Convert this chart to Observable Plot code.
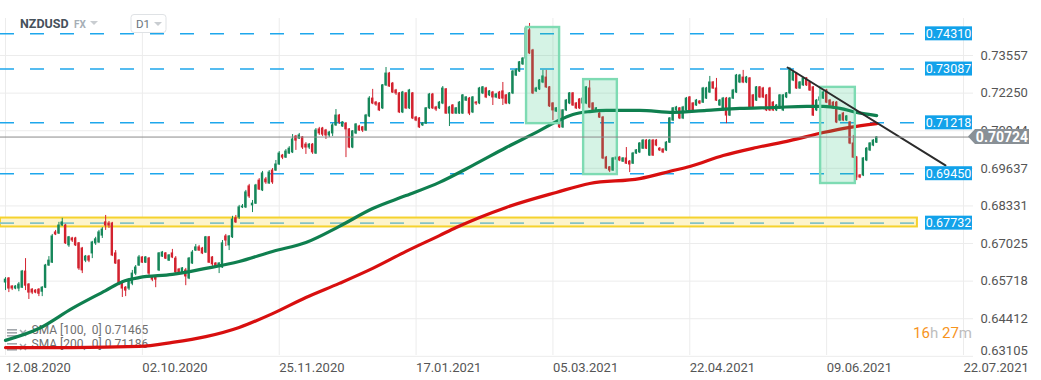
<!DOCTYPE html>
<html><head><meta charset="utf-8">
<script src="https://cdn.jsdelivr.net/npm/d3@7"></script>
<script src="https://cdn.jsdelivr.net/npm/@observablehq/plot@0.6"></script>
<style>
body{margin:0;background:#fff;font-family:Roboto,sans-serif}
#chart{width:1041px;height:380px}
</style></head><body><div id="chart"></div>
<script>
// ---- data (daily candles, NZDUSD, index = bar number) ----
const opens=[
.6567,.6581,.6553,.6546,.6546,.6549,.6605,.6560,.6542,.6539,
.6542,.6535,.6549,.6626,.6636,.6741,.6737,.6765,.6765,.6696,
.6720,.6720,.6703,.6685,.6643,.6657,.6668,.6703,.6706,.6730,
.6776,.6772,.6772,.6668,.6643,.6567,.6549,.6546,.6563,.6598,
.6626,.6654,.6636,.6650,.6584,.6584,.6609,.6657,.6668,.6643,
.6668,.6650,.6612,.6602,.6609,.6581,.6633,.6678,.6689,.6685,
.6671,.6724,.6654,.6633,.6623,.6619,.6727,.6696,.6724,.6790,
.6793,.6828,.6828,.6901,.6835,.6841,.6921,.6887,.6925,.6911,
.6956,.6956,.6977,.7008,.7001,.7015,.7019,.7074,.7067,.7071,
.7046,.7036,.7046,.7015,.7099,.7102,.7095,.7078,.7085,.7113,
.7147,.7109,.7119,.7099,.7036,.7085,.7109,.7106,.7095,.7144,
.7206,.7192,.7189,.7172,.7252,.7293,.7258,.7234,.7224,.7158,
.7224,.7172,.7224,.7140,.7137,.7113,.7119,.7172,.7220,.7175,
.7172,.7189,.7238,.7154,.7182,.7154,.7154,.7154,.7199,.7206,
.7158,.7192,.7189,.7224,.7241,.7217,.7227,.7210,.7227,.7231,
.7217,.7189,.7224,.7286,.7300,.7325,.7345,.7443,.7373,.7231,
.7238,.7262,.7279,.7245,.7189,.7161,.7165,.7106,.7165,.7189,
.7224,.7189,.7203,.7189,.7189,.7241,.7189,.7165,.7154,.7140,
.7001,.6967,.6956,.6994,.7001,.6987,.6998,.6987,.6980,.7015,
.7019,.7032,.7060,.7008,.7060,.7060,.7032,.7029,.7026,.7053,
.7130,.7165,.7172,.7137,.7165,.7210,.7189,.7182,.7196,.7192,
.7206,.7227,.7262,.7241,.7182,.7165,.7206,.7147,.7206,.7227,
.7262,.7279,.7262,.7276,.7217,.7199,.7245,.7241,.7217,.7241,
.7192,.7165,.7172,.7165,.7210,.7224,.7269,.7293,.7241,.7252,
.7276,.7262,.7245,.7165,.7199,.7206,.7234,.7199,.7192,.7192,
.7130,.7154,.7130,.7123,.7050,.7001,.6939,.6939,.6991,.7026,
.7043,.7053];
const closes=[
.6577,.6546,.6546,.6553,.6560,.6605,.6556,.6532,.6532,.6532,
.6528,.6549,.6626,.6643,.6727,.6734,.6765,.6776,.6703,.6724,
.6713,.6696,.6616,.6609,.6657,.6643,.6706,.6717,.6741,.6751,
.6765,.6765,.6661,.6633,.6563,.6546,.6539,.6574,.6598,.6619,
.6654,.6636,.6654,.6598,.6577,.6577,.6668,.6671,.6650,.6661,
.6654,.6602,.6602,.6616,.6588,.6650,.6671,.6689,.6678,.6668,
.6724,.6636,.6630,.6619,.6633,.6703,.6713,.6727,.6786,.6776,
.6828,.6831,.6880,.6866,.6841,.6904,.6890,.6946,.6915,.6949,
.6915,.6977,.7015,.7001,.7022,.7032,.7064,.7060,.7078,.7036,
.7036,.7046,.7019,.7095,.7085,.7081,.7078,.7088,.7113,.7147,
.7123,.7123,.7099,.7036,.7092,.7116,.7095,.7095,.7147,.7206,
.7189,.7185,.7165,.7252,.7293,.7248,.7227,.7224,.7158,.7227,
.7172,.7234,.7137,.7130,.7106,.7119,.7172,.7220,.7172,.7168,
.7192,.7241,.7154,.7175,.7154,.7172,.7192,.7217,.7210,.7154,
.7210,.7189,.7241,.7245,.7210,.7231,.7210,.7220,.7206,.7206,
.7189,.7224,.7300,.7304,.7332,.7345,.7450,.7363,.7224,.7241,
.7269,.7283,.7245,.7179,.7165,.7172,.7106,.7165,.7199,.7224,
.7182,.7172,.7172,.7206,.7245,.7175,.7165,.7172,.7140,.6998,
.6963,.6956,.6998,.7001,.6991,.6998,.6980,.6977,.7015,.7026,
.7050,.7060,.7032,.7060,.7008,.7043,.7026,.7019,.7053,.7137,
.7172,.7175,.7137,.7175,.7206,.7165,.7165,.7199,.7189,.7241,
.7241,.7262,.7241,.7199,.7199,.7206,.7147,.7206,.7234,.7286,
.7286,.7262,.7279,.7175,.7172,.7245,.7210,.7210,.7165,.7165,
.7165,.7182,.7217,.7217,.7224,.7304,.7297,.7241,.7262,.7276,
.7252,.7234,.7147,.7199,.7210,.7227,.7192,.7182,.7172,.7123,
.7147,.7130,.7144,.7050,.7001,.6932,.6932,.6998,.7032,.7050,
.7060,.7071];
const highs=[
.6584,.6584,.6556,.6556,.6567,.6609,.6650,.6563,.6546,.6542,
.6546,.6553,.6630,.6657,.6734,.6748,.6776,.6790,.6769,.6727,
.6724,.6724,.6706,.6689,.6661,.6661,.6710,.6724,.6748,.6758,
.6800,.6779,.6776,.6678,.6647,.6570,.6553,.6581,.6609,.6626,
.6661,.6657,.6657,.6654,.6588,.6588,.6671,.6675,.6671,.6664,
.6682,.6657,.6616,.6619,.6616,.6654,.6678,.6699,.6696,.6689,
.6727,.6727,.6657,.6636,.6636,.6713,.6734,.6730,.6797,.6800,
.6835,.6838,.6887,.6908,.6852,.6908,.6928,.6953,.6932,.6956,
.6963,.6991,.7022,.7012,.7029,.7039,.7081,.7078,.7085,.7074,
.7053,.7050,.7050,.7102,.7106,.7106,.7099,.7092,.7119,.7168,
.7151,.7126,.7123,.7102,.7095,.7119,.7113,.7109,.7151,.7213,
.7238,.7196,.7192,.7255,.7314,.7297,.7262,.7238,.7227,.7231,
.7227,.7238,.7227,.7144,.7140,.7123,.7175,.7224,.7224,.7179,
.7196,.7248,.7241,.7179,.7185,.7175,.7196,.7220,.7213,.7210,
.7213,.7196,.7245,.7248,.7245,.7234,.7231,.7224,.7231,.7262,
.7220,.7227,.7304,.7310,.7335,.7349,.7456,.7467,.7377,.7245,
.7272,.7304,.7304,.7248,.7192,.7175,.7168,.7168,.7203,.7227,
.7227,.7192,.7206,.7210,.7248,.7269,.7192,.7175,.7158,.7144,
.7005,.6970,.7001,.7005,.7005,.7001,.7036,.6991,.7019,.7029,
.7053,.7064,.7064,.7064,.7064,.7064,.7036,.7032,.7057,.7140,
.7175,.7179,.7175,.7179,.7210,.7213,.7192,.7203,.7199,.7245,
.7245,.7283,.7265,.7276,.7203,.7210,.7210,.7210,.7238,.7290,
.7290,.7304,.7283,.7279,.7220,.7248,.7248,.7245,.7220,.7245,
.7196,.7185,.7220,.7220,.7227,.7314,.7300,.7297,.7265,.7279,
.7279,.7265,.7248,.7203,.7213,.7231,.7238,.7203,.7196,.7196,
.7151,.7158,.7147,.7126,.7078,.7005,.6942,.7001,.7036,.7053,
.7064,.7074];
const lows=[
.6539,.6532,.6539,.6542,.6535,.6546,.6539,.6508,.6525,.6528,
.6518,.6518,.6546,.6623,.6633,.6730,.6734,.6762,.6699,.6689,
.6706,.6692,.6609,.6598,.6636,.6636,.6650,.6696,.6703,.6720,
.6748,.6755,.6657,.6630,.6556,.6515,.6518,.6539,.6556,.6591,
.6623,.6633,.6633,.6591,.6570,.6549,.6605,.6654,.6647,.6640,
.6650,.6598,.6598,.6598,.6556,.6577,.6630,.6675,.6675,.6664,
.6668,.6633,.6623,.6616,.6598,.6616,.6692,.6678,.6720,.6772,
.6786,.6824,.6824,.6859,.6810,.6838,.6887,.6883,.6908,.6908,
.6908,.6953,.6974,.6994,.6998,.7012,.7015,.7026,.7064,.7029,
.7012,.7029,.7012,.7012,.7078,.7074,.7064,.7071,.7074,.7109,
.7116,.7106,.7001,.7032,.7032,.7081,.7092,.7088,.7092,.7140,
.7185,.7179,.7161,.7168,.7248,.7245,.7224,.7217,.7154,.7154,
.7168,.7168,.7133,.7126,.7102,.7109,.7116,.7168,.7168,.7161,
.7168,.7185,.7151,.7109,.7151,.7151,.7151,.7151,.7196,.7147,
.7154,.7182,.7185,.7220,.7206,.7213,.7182,.7206,.7203,.7182,
.7185,.7185,.7220,.7283,.7297,.7321,.7342,.7359,.7220,.7227,
.7234,.7258,.7241,.7175,.7130,.7158,.7102,.7102,.7161,.7185,
.7179,.7168,.7168,.7185,.7185,.7172,.7161,.7161,.7137,.6994,
.6960,.6949,.6953,.6991,.6987,.6984,.6977,.6949,.6977,.7012,
.7015,.7029,.7029,.7005,.7005,.7039,.7022,.7015,.7022,.7050,
.7126,.7161,.7133,.7133,.7161,.7161,.7161,.7179,.7185,.7189,
.7203,.7224,.7238,.7196,.7179,.7161,.7119,.7144,.7203,.7224,
.7258,.7258,.7258,.7172,.7168,.7196,.7206,.7206,.7161,.7161,
.7161,.7161,.7168,.7161,.7206,.7220,.7265,.7238,.7238,.7248,
.7248,.7231,.7144,.7161,.7196,.7203,.7189,.7179,.7168,.7119,
.7126,.7126,.7126,.7046,.6998,.6921,.6928,.6935,.6987,.7022,
.7039,.7050];

// moving averages (bar index -> value)
const sma100Idx=[0,10,20,30,35,40,50,60,70,80,90,100,110,120,130,140,150,160,165,170,175,180,190,200,210,220,230,240,245,250,255,261];
const sma100Val=[.6366,.6407,.6477,.6539,.6570,.6584,.6595,.6616,.6640,.6675,.6706,.6762,.6824,.6869,.6915,.6974,.7036,.7095,.7126,.7151,.7161,.7165,.7165,.7158,.7165,.7172,.7175,.7179,.7179,.7172,.7158,.7147];
const sma200Idx=[0,20,40,50,60,70,80,90,100,110,120,130,135,150,165,175,190,200,205,215,225,235,245,253,261];
const sma200Val=[.6341,.6341,.6345,.6359,.6379,.6411,.6459,.6515,.6564,.6616,.6675,.6730,.6758,.6828,.6880,.6911,.6928,.6956,.6970,.7008,.7036,.7060,.7088,.7106,.7119];

// levels and annotations
const levels=[0.74310,0.73087,0.71218,0.69450];
const zoneLevel=0.67732, zoneTop=0.6791, zoneBottom=0.6760;
const lastPrice=0.70724;
const boxStart=[156.1,173.2,244.2], boxEnd=[166,183.3,254.6];
const boxTop=[0.7453,0.7272,0.7245], boxBottom=[0.7119,0.6942,0.6911];
const trendIdx=[234.3,281.6], trendVal=[0.7314,0.6974];
const legendLabels=["SMA [100,\u00a0 0] 0.71465","SMA [200,\u00a0 0] 0.71186"];

// axes
const yTicks=[0.73557,0.72250,0.70944,0.69637,0.68331,0.67025,0.65718,0.64412,0.63105];
const xTickIdx=[0,41,82,123,164,205,246,287];
const xTickLabels=["12.08.2020","02.10.2020","25.11.2020","17.01.2021","05.03.2021","22.04.2021","09.06.2021","22.07.2021"];
const xDomain=[-1.5,290], yDomain=[0.63134,0.74843];
const levelEndIdx=273.2;

// ---- build ----
const UP="#16875a", DOWN="#d3222f";
const candles=opens.map((o,i)=>({i,o,h:highs[i],l:lows[i],c:closes[i],up:closes[i]>=o}));
const sma100=sma100Idx.map((x,k)=>({x,y:sma100Val[k]}));
const sma200=sma200Idx.map((x,k)=>({x,y:sma200Val[k]}));
const boxes=boxStart.map((s,k)=>({x1:s,x2:boxEnd[k],y1:boxBottom[k],y2:boxTop[k]}));
const trend=trendIdx.map((x,k)=>({x,y:trendVal[k]}));

const chart=Plot.plot({
  width:1041,height:380,
  marginLeft:0,marginRight:68,marginTop:18,marginBottom:25,
  x:{domain:xDomain},
  y:{domain:yDomain},
  style:{fontFamily:"Roboto, sans-serif",fontSize:"13px",color:"#555",background:"#fff",overflow:"visible"},
  marks:[
    Plot.gridY(yTicks,{stroke:"#ececec",strokeOpacity:1}),
    Plot.gridX(xTickIdx,{stroke:"#ececec",strokeOpacity:1}),
    Plot.rect([0],{x1:()=>xDomain[0],x2:()=>levelEndIdx,y1:()=>zoneBottom,y2:()=>zoneTop,fill:"#fdf4cc",stroke:"#f5d22e",strokeWidth:2}),
    Plot.ruleY([zoneLevel],{x1:()=>xDomain[0],x2:()=>levelEndIdx,stroke:"#86c3c6",strokeWidth:1.6,strokeDasharray:"14,16"}),
    Plot.ruleY(levels,{x1:()=>xDomain[0],x2:()=>levelEndIdx,stroke:"#1ea7ec",strokeWidth:1.5,strokeDasharray:"14,16"}),
    Plot.text([legendLabels[0]],{frameAnchor:"bottom-left",dx:31,dy:-22,textAnchor:"start",fill:"#707070",fontSize:12}),
    Plot.text([legendLabels[1]],{frameAnchor:"bottom-left",dx:31,dy:-8,textAnchor:"start",fill:"#707070",fontSize:12}),
    Plot.ruleX(candles,{x:"i",y1:"l",y2:"h",stroke:d=>d.up?UP:DOWN,strokeWidth:1}),
    Plot.rect(candles,{x1:d=>d.i-0.36,x2:d=>d.i+0.36,y1:"o",y2:"c",fill:d=>d.up?UP:DOWN,insetTop:-0.5,insetBottom:-0.5}),
    Plot.line(sma200,{x:"x",y:"y",stroke:"#d80f0f",strokeWidth:3.2,curve:"monotone-x"}),
    Plot.line(sma100,{x:"x",y:"y",stroke:"#0f7f4f",strokeWidth:3.2,curve:"monotone-x"}),
    Plot.rect(boxes,{x1:"x1",x2:"x2",y1:"y1",y2:"y2",fill:"#2ec27e",fillOpacity:0.2,stroke:"#7edbb3",strokeWidth:2.4}),
    Plot.line(trend,{x:"x",y:"y",stroke:"#2b2b2b",strokeWidth:2}),
    Plot.ruleY([lastPrice],{stroke:"#8a8a8a",strokeWidth:1}),
    Plot.axisY(yTicks.slice(0,-1),{anchor:"right",tickSize:0,tickPadding:7,textAnchor:"start",tickFormat:d=>d.toFixed(5),fill:"#555",label:null}),
    Plot.text([yTicks[yTicks.length-1]],{y:d=>d,frameAnchor:"right",dx:7,dy:-6,textAnchor:"start",text:d=>d.toFixed(5),fill:"#555"}),
    Plot.axisX(xTickIdx,{anchor:"bottom",tickSize:0,tickPadding:7,textAnchor:"start",tickFormat:d=>xTickLabels[xTickIdx.indexOf(d)],fill:"#555",label:null})
  ]
});
document.getElementById("chart").append(chart);

// ---- annotation chrome positioned with the plot's scales ----
const svg=d3.select(chart);
const ys=chart.scale("y"), xs=chart.scale("x");
const yPx=ys.apply?ys.apply:d3.scaleLinear(ys.domain,ys.range);
const right=xs.range[1];
const g=svg.append("g").attr("font-family","Roboto, sans-serif").attr("text-anchor","start");
[...levels,zoneLevel].forEach(v=>{
  const y=yPx(v);
  g.append("rect").attr("x",right-48).attr("y",y-7).attr("width",47).attr("height",14).attr("fill","#12a2ea");
  g.append("text").attr("x",right-24.5).attr("y",y).attr("dy","0.36em").attr("text-anchor","middle")
   .attr("fill","#fff").attr("font-size",12.5).text(v.toFixed(5));
});
const yp=yPx(lastPrice);
g.append("path").attr("d",`M${right-5},${yp} L${right+2},${yp-7.5} H${right+56} V${yp+7.5} H${right+2} Z`).attr("fill","#899096");
g.append("text").attr("x",right+29).attr("y",yp).attr("dy","0.36em").attr("text-anchor","middle")
 .attr("fill","#fff").attr("font-weight","bold").attr("font-size",14).text(lastPrice.toFixed(5));

// header
g.append("text").attr("x",20).attr("y",23).attr("dy","0.36em").attr("text-anchor","start").attr("font-weight","bold").attr("font-size",12.5).attr("fill","#46515b").text("NZDUSD");
g.append("text").attr("x",74).attr("y",24).attr("dy","0.36em").attr("text-anchor","start").attr("font-weight","bold").attr("font-size",10).attr("fill","#a6aeb6").text("FX");
g.append("path").attr("d","M90,21 L98,21 L94,25 Z").attr("fill","#c9cdd1");
g.append("rect").attr("x",131).attr("y",14.5).attr("width",35).attr("height",18).attr("rx",3).attr("fill","#fff").attr("stroke","#dfe2e5");
g.append("text").attr("x",136).attr("y",24).attr("dy","0.36em").attr("text-anchor","start").attr("font-size",11.5).attr("fill","#6b747c").text("D1");
g.append("path").attr("d","M154,22 L162,22 L158,26 Z").attr("fill","#c9cdd1");

// timer
const t=g.append("text").attr("x",right-1).attr("y",333).attr("dy","0.36em").attr("text-anchor","end").attr("font-size",15);
t.append("tspan").attr("fill","#f7941d").text("16");
t.append("tspan").attr("fill","#bdbdbd").text("h ");
t.append("tspan").attr("fill","#f7941d").text("27");
t.append("tspan").attr("fill","#bdbdbd").text("m");

// legend icons
const gi=svg.insert("g",":first-child");
[333,347].forEach(y0=>{
  [-4,-1,2].forEach(o=>gi.append("rect").attr("x",7).attr("y",y0+o).attr("width",10).attr("height",1.6).attr("fill","#a3a8ad"));
  gi.append("path").attr("d",`M20,${y0-3} L26,${y0+3} M26,${y0-3} L20,${y0+3}`).attr("stroke","#a3a8ad").attr("stroke-width",1.5);
});
</script></body></html>
